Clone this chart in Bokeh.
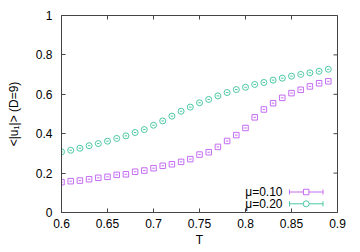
from bokeh.plotting import figure
from bokeh.models import Range1d, FixedTicker, Label
from bokeh.embed import file_html
from bokeh.resources import INLINE

T = [0.60, 0.61, 0.62, 0.63, 0.64, 0.65, 0.66, 0.67, 0.68, 0.69,
     0.70, 0.71, 0.72, 0.73, 0.74, 0.75, 0.76, 0.77, 0.78, 0.79,
     0.80, 0.81, 0.82, 0.83, 0.84, 0.85, 0.86, 0.87, 0.88, 0.89]
u_mu010 = [0.154, 0.159, 0.162, 0.169, 0.176, 0.181, 0.191, 0.194, 0.207, 0.213,
           0.225, 0.237, 0.245, 0.257, 0.271, 0.294, 0.306, 0.333, 0.363, 0.393,
           0.429, 0.483, 0.523, 0.555, 0.582, 0.606, 0.623, 0.640, 0.656, 0.666]
u_mu020 = [0.308, 0.316, 0.326, 0.339, 0.350, 0.362, 0.376, 0.389, 0.406, 0.421,
           0.443, 0.465, 0.489, 0.514, 0.535, 0.557, 0.574, 0.592, 0.609, 0.624,
           0.636, 0.650, 0.660, 0.672, 0.682, 0.692, 0.701, 0.709, 0.717, 0.727]
labels = ["\u03bc=0.10", "\u03bc=0.20"]
x_ticks = [0.6, 0.65, 0.7, 0.75, 0.8, 0.85, 0.9]
x_tick_labels = ["0.6", "0.65", "0.7", "0.75", "0.8", "0.85", "0.9"]
y_ticks = [0, 0.2, 0.4, 0.6, 0.8, 1.0]
y_tick_labels = ["0", "0.2", "0.4", "0.6", "0.8", "1"]

PURPLE = "#c46cf2"
GREEN = "#4cc8a4"
FONT = "Liberation Sans"
AX = "#444444"

W, H = 360, 252
BL, BR, BT, BB = 61, 23, 15, 40
xr = Range1d(0.6, 0.9)
yr = Range1d(0.0, 1.0)

p = figure(width=W, height=H, x_range=xr, y_range=yr, output_backend="svg",
           toolbar_location=None, min_border_left=BL, min_border_right=BR,
           min_border_top=BT, min_border_bottom=BB)
p.xgrid.visible = False
p.ygrid.visible = False
p.outline_line_color = AX
p.outline_line_width = 1
p.outline_line_alpha = 1
p.background_fill_color = "white"
p.border_fill_color = "white"

for ax in (p.xaxis[0], p.yaxis[0]):
    ax.axis_line_color = AX
    ax.major_tick_line_color = AX
    ax.major_tick_in = 4
    ax.major_tick_out = 0
    ax.minor_tick_line_color = None
    ax.major_label_text_font = FONT
    ax.major_label_text_font_size = "12px"
    ax.major_label_text_color = "black"
    ax.axis_label_text_font = FONT
    ax.axis_label_text_font_size = "12px"
    ax.axis_label_text_font_style = "normal"
    ax.axis_label_text_color = "black"

p.xaxis[0].ticker = FixedTicker(ticks=x_ticks)
p.xaxis[0].major_label_overrides = {v: s for v, s in zip(x_ticks, x_tick_labels)}
p.xaxis[0].major_label_standoff = 6
p.xaxis[0].axis_label = "T"
p.xaxis[0].axis_label_standoff = 2
p.yaxis[0].ticker = FixedTicker(ticks=y_ticks)
p.yaxis[0].major_label_overrides = {v: s for v, s in zip(y_ticks, y_tick_labels)}
p.yaxis[0].major_label_standoff = 9
p.yaxis[0].axis_label = "<|u\u2081|> (D=9)"
p.yaxis[0].axis_label_standoff = 12

fw = W - BL - BR
fh = H - BT - BB
def dx(px):
    return xr.start + (px - BL) / fw * (xr.end - xr.start)
def dy(py):
    return yr.end - (py - BT) / fh * (yr.end - yr.start)

# mirrored inward ticks on top and right borders
tlx = (dx(BL + 4) - dx(BL))
tly = (dy(BT) - dy(BT + 4))
p.segment(x0=x_ticks, y0=[yr.end] * len(x_ticks), x1=x_ticks,
          y1=[yr.end - tly] * len(x_ticks), line_color=AX, line_width=1)
p.segment(x0=[xr.end] * len(y_ticks), y0=y_ticks, x1=[xr.end - tlx] * len(y_ticks),
          y1=y_ticks, line_color=AX, line_width=1)

p.scatter(T, u_mu010, marker="square", size=5.5, fill_color=None,
          line_color=PURPLE, line_width=1)
p.scatter(T, u_mu010, marker="dash", size=2.5, line_color=PURPLE, line_width=1)
p.scatter(T, u_mu020, marker="circle", size=6, fill_color=None,
          line_color=GREEN, line_width=1)
p.scatter(T, u_mu020, marker="dash", size=2.5, line_color=GREEN, line_width=1)

# legend (drawn manually: text left of the sample)
rows = [(191.5, PURPLE, "square", 5.5), (203.3, GREEN, "circle", 6)]
for (py, col, mk, sz), lab in zip(rows, labels):
    y = dy(py)
    x0, x1, xm = dx(289), dx(322.5), dx(305.7)
    p.segment(x0=[x0], y0=[y], x1=[x1], y1=[y], line_color=col, line_width=1)
    p.segment(x0=[x0, x1], y0=[dy(py - 2.5)] * 2, x1=[x0, x1], y1=[dy(py + 2.5)] * 2,
              line_color=col, line_width=1)
    p.scatter([xm], [y], marker=mk, size=sz, fill_color="white", line_color=col, line_width=1)
    p.add_layout(Label(x=dx(282), y=y, text=lab,
                       text_font=FONT, text_font_size="12px", text_color="black",
                       text_align="right", text_baseline="middle"))

open("out.html", "w").write(file_html(p, INLINE))
